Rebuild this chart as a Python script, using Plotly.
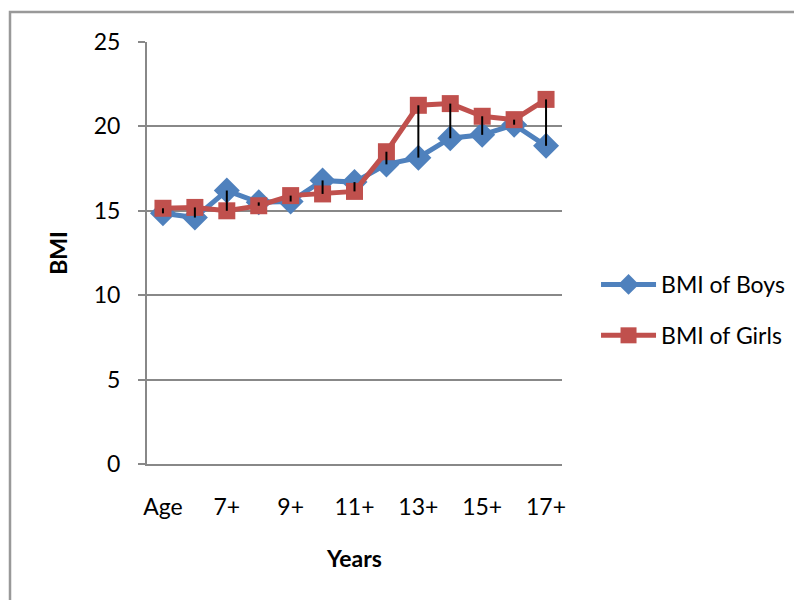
import plotly.graph_objects as go

categories = ["Age", "6+", "7+", "8+", "9+", "10+", "11+", "12+", "13+", "14+", "15+", "16+", "17+"]
bmi_boys = [14.85, 14.6, 16.2, 15.5, 15.55, 16.8, 16.7, 17.75, 18.15, 19.3, 19.5, 20.1, 18.85]
bmi_girls = [15.15, 15.2, 15.0, 15.3, 15.9, 16.0, 16.15, 18.5, 21.25, 21.35, 20.6, 20.4, 21.6]
shown_ticks = ["Age", "7+", "9+", "11+", "13+", "15+", "17+"]
y_ticks = [0, 5, 10, 15, 20, 25]

FONT = "Lato"
FS = 23
BLUE = "#4F81BD"
RED = "#C0504D"

L, T, PW, PH = 139, 34, 415, 422

fig = go.Figure()
fig.add_trace(go.Scatter(
    x=categories, y=bmi_boys, name="BMI of Boys", mode="lines+markers",
    line=dict(color=BLUE, width=5),
    marker=dict(symbol="diamond", size=20, color=BLUE),
    legendgroup="b",
))
fig.add_trace(go.Scatter(
    x=categories, y=bmi_girls, name="BMI of Girls", mode="lines+markers",
    line=dict(color=RED, width=5),
    marker=dict(symbol="square", size=17, color=RED),
    legendgroup="g",
))

# high-low lines between the two series
hx, hy = [], []
for c, b, g in zip(categories, bmi_boys, bmi_girls):
    hx += [c, c, None]
    hy += [b, g, None]
fig.add_trace(go.Scatter(
    x=hx, y=hy, mode="lines", line=dict(color="black", width=2),
    showlegend=False, hoverinfo="skip",
))

fig.update_layout(
    width=802, height=600,
    margin=dict(l=L, r=802 - L - PW, t=T, b=600 - T - PH),
    paper_bgcolor="white", plot_bgcolor="white",
    font=dict(family=FONT, size=FS, color="black"),
    showlegend=True,
    legend=dict(
        x=1.082, y=0.365, xanchor="left", yanchor="middle",
        font=dict(family=FONT, size=FS), tracegroupgap=18,
        itemwidth=55,
        bgcolor="rgba(0,0,0,0)",
    ),
    xaxis=dict(
        type="category", categoryorder="array", categoryarray=categories,
        range=[-0.5, len(categories) - 0.5],
        tickmode="array", tickvals=shown_ticks, ticktext=shown_ticks,
        showgrid=False, showline=True, linecolor="#888888", linewidth=2,
        ticks="", ticklabelstandoff=21,
        title=dict(text="<b>Years</b>", font=dict(family=FONT, size=FS), standoff=32),
        zeroline=False,
    ),
    yaxis=dict(
        range=[0, 25], tickmode="array", tickvals=y_ticks,
        showgrid=True, gridcolor="#888888", gridwidth=1.5,
        showline=True, linecolor="#888888", linewidth=2,
        ticks="outside", ticklen=7, tickcolor="#888888", tickwidth=2,
        ticklabelstandoff=13,
        title=dict(text="<b>BMI</b>", font=dict(family=FONT, size=FS), standoff=20),
        zeroline=False,
    ),
    shapes=[dict(
        type="rect", xref="paper", yref="paper",
        x0=(2 - L) / PW, x1=1.7, y0=-0.5, y1=(T + PH - 4) / PH,
        line=dict(color="#999999", width=2.5), fillcolor="rgba(0,0,0,0)",
        layer="below",
    )],
)

fig.write_html("out.html")
